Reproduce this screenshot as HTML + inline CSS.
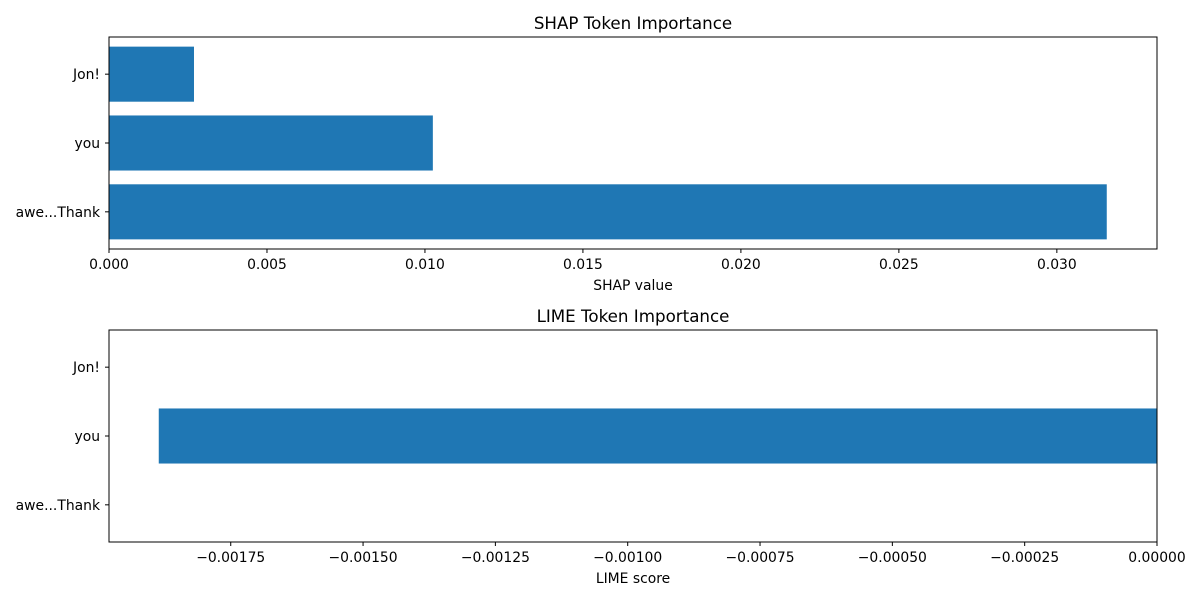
<!DOCTYPE html>
<html><head><meta charset="utf-8"><style>
body{margin:0;background:#fff;}
svg{display:block;font-family:"DejaVu Sans","Liberation Sans",sans-serif;}
</style></head><body>
<svg id="c" width="1200" height="600"></svg>
<script>
const categories=["awe...Thank","you","Jon!"];
const shapValues=[0.03158,0.01025,0.00269];
const limeValues=[0,-0.001886,0];
const shapTicks=["0.000","0.005","0.010","0.015","0.020","0.025","0.030"];
const shapTickVals=[0,0.005,0.01,0.015,0.02,0.025,0.03];
const limeTicks=["−0.00175","−0.00150","−0.00125","−0.00100","−0.00075","−0.00050","−0.00025","0.00000"];
const limeTickVals=[-0.00175,-0.0015,-0.00125,-0.001,-0.00075,-0.0005,-0.00025,0];
const NS="http://www.w3.org/2000/svg";
const svg=document.getElementById('c');
function mk(tag,attrs,parent,text){const e=document.createElementNS(NS,tag);for(const k in attrs)e.setAttribute(k,attrs[k]);if(text!==undefined)e.textContent=text;(parent||svg).appendChild(e);return e;}
function panel(name,top,title,xlabel,vals,xmin,xmax,ticks,tickVals){
  const L=109,R=1157,T=top,B=top+212;
  const g=mk('g',{});
  
  
  const x=v=>L+(v-xmin)/(xmax-xmin)*(R-L);
  const y=i=>B-(i+0.54)/3.08*(B-T);
  vals.forEach((v,i)=>{
    const x0=x(Math.min(0,v)),x1=x(Math.max(0,v));
    const h=0.8/3.08*(B-T);
    const r=mk('rect',{x:x0,y:y(i)-h/2,width:Math.max(0,x1-x0),height:h,fill:'#1f77b4'},g);
    
    
  });
  const f=mk('rect',{x:L,y:T,width:R-L,height:B-T,fill:'none',stroke:'#000','stroke-width':1},g);
  
  
  categories.forEach((c,i)=>{
    mk('line',{x1:L-4,x2:L,y1:y(i),y2:y(i),stroke:'#000'},g);
    const t=mk('text',{x:L-9,y:y(i)+5,'text-anchor':'end','font-size':13.9},g,c);
    
    
  });
  ticks.forEach((lab,i)=>{
    const xx=x(tickVals[i]);
    mk('line',{x1:xx,x2:xx,y1:B,y2:B+4,stroke:'#000'},g);
    const t=mk('text',{x:xx,y:B+20,'text-anchor':'middle','font-size':13.9},g,lab);
    
    
  });
  const tt=mk('text',{x:(L+R)/2,y:T-8,'text-anchor':'middle','font-size':16.7},g,title);
  
  
  const xl=mk('text',{x:(L+R)/2,y:B+41,'text-anchor':'middle','font-size':13.9},g,xlabel);
  
  
}
panel('shap',37,'SHAP Token Importance','SHAP value',shapValues,0,0.03317,shapTicks,shapTickVals);
panel('lime',330,'LIME Token Importance','LIME score',limeValues,-0.00198,0,limeTicks,limeTickVals);
</script>
</body></html>
